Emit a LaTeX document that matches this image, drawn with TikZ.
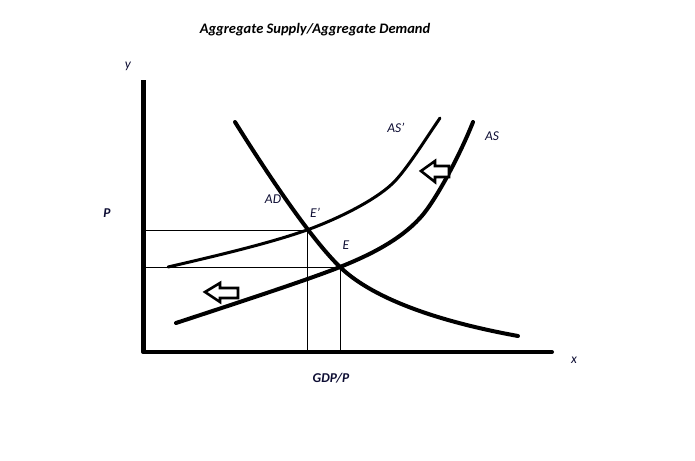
\documentclass[tikz,border=0pt]{standalone}
\usepackage{fontspec}
\setmainfont{Carlito}
\begin{document}
\begin{tikzpicture}[x=1pt,y=-1pt,
  lbl/.style={font=\fontsize{13.5}{15}\selectfont\itshape, text=labc, inner sep=0pt},
  blbl/.style={font=\fontsize{13.5}{15}\selectfont\bfseries\itshape, text=labc, inner sep=0pt},
  curve/.style={line width=4pt, line cap=round, line join=round},
  thin/.style={line width=0.8pt},
  hollowarrow/.style={line width=2.6pt, fill=white, line join=miter}]
\definecolor{labc}{rgb}{0.05,0.05,0.2}
\useasboundingbox (0,0) rectangle (695,460);
% title
\node[font=\fontsize{14.5}{16}\selectfont\bfseries\itshape, inner sep=0pt] (title) at (315,30) {Aggregate Supply/Aggregate Demand};
% key points
\coordinate (O) at (143,352);
\coordinate (Ytop) at (143,80);
\coordinate (Xend) at (552,352);
\coordinate (Ep) at (307,230);
\coordinate (E) at (340,267);
\coordinate (Yep) at (143,230);
\coordinate (Ye) at (143,267);
\coordinate (Xep) at (307,352);
\coordinate (Xe) at (340,352);
% guide lines
\draw[thin] (Yep) -- (Ep);
\draw[thin] (Ye) -- (E);
\draw[thin] (Ep) -- (Xep);
\draw[thin] (E) -- (Xe);
% axes
\draw[line width=5pt] (Ytop) -- (O);
\draw[line width=4pt, line cap=round] (O) -- (Xend);
% AD
\draw[curve] (235,122) .. controls (265,170) and (310,238) .. (E)
             .. controls (370,296) and (430,320) .. (518,336);
% AS'
\draw[line width=3pt, line cap=round] (168,267) .. controls (220,255) and (270,243) .. (Ep)
             .. controls (340,218) and (375,200) .. (392,184)
             .. controls (405,172) and (425,140) .. (440,118);
% AS
\draw[curve] (176,323) .. controls (240,302) and (310,279) .. (E)
             .. controls (370,255) and (400,240) .. (420,218)
             .. controls (435,202) and (460,155) .. (473,122);
% hollow arrows
\draw[hollowarrow] (205,292) -- (220,283) -- (220,288) -- (238,288) -- (238,298) -- (220,298) -- (220,302) -- cycle;
\draw[hollowarrow] (421,171) -- (435,161) -- (435,166) -- (449,166) -- (449,177) -- (435,177) -- (435,182) -- cycle;
% labels
\node[lbl] (ly) at (128,66) {y};
\node[lbl] (lx) at (574,360) {x};
\node[blbl] (lP) at (107,213) {P};
\node[blbl] (lgdp) at (331,378) {GDP/P};
\node[lbl] (lASp) at (396,128) {AS'};
\node[lbl] (lAS) at (492,136) {AS};
\node[lbl] (lAD) at (273,199) {AD};
\node[lbl] (lEp) at (315,213) {E'};
\node[lbl] (lE) at (346,245) {E};
\end{tikzpicture}
\end{document}
